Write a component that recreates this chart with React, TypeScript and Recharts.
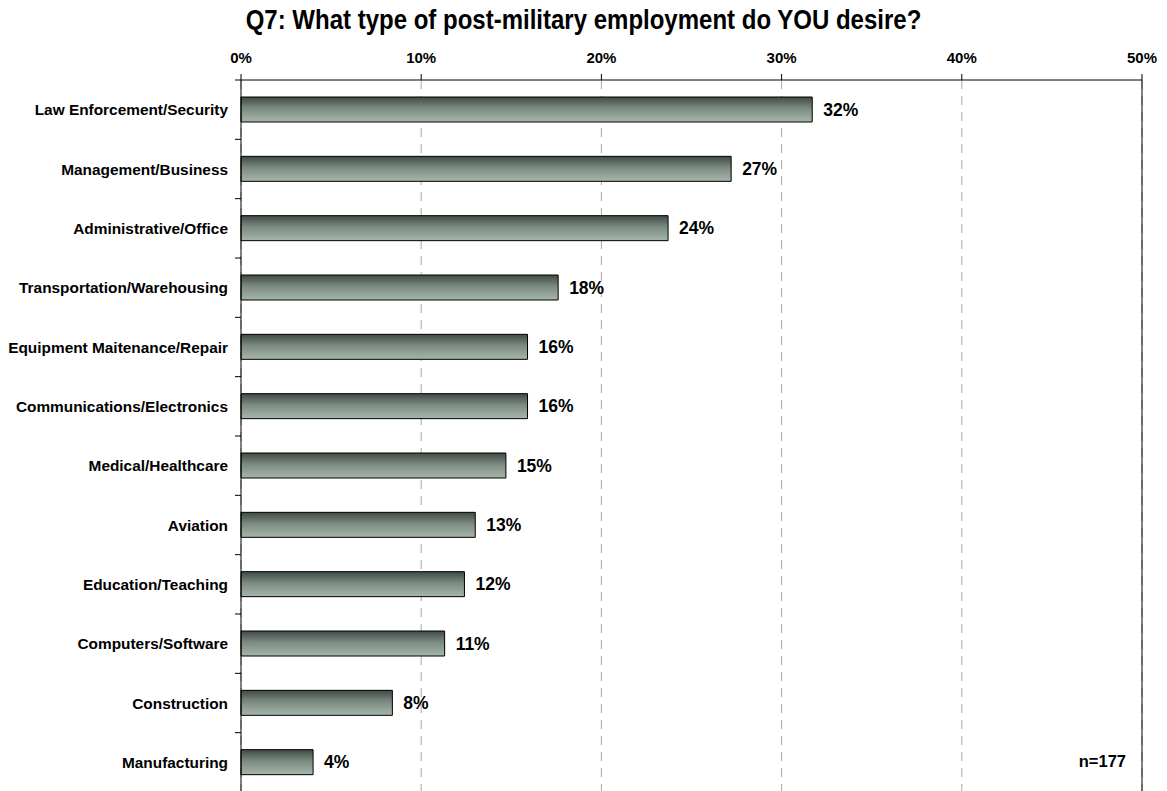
import { BarChart, Bar, XAxis, YAxis, CartesianGrid, ReferenceLine, LabelList } from 'recharts'

const categories = [
  'Law Enforcement/Security',
  'Management/Business',
  'Administrative/Office',
  'Transportation/Warehousing',
  'Equipment Maitenance/Repair',
  'Communications/Electronics',
  'Medical/Healthcare',
  'Aviation',
  'Education/Teaching',
  'Computers/Software',
  'Construction',
  'Manufacturing',
]

const shares = [31.7, 27.2, 23.7, 17.6, 15.9, 15.9, 14.7, 13.0, 12.4, 11.3, 8.4, 4.0]

const xTicks = [0, 10, 20, 30, 40, 50]

const data = categories.map((name, i) => ({ name, share: shares[i] }))

const W = 1167
const H = 800
const TOP = 80
const BOTTOM = 8
const BAND = (H - TOP - BOTTOM) / categories.length
const FONT = '"Liberation Sans", Arial, sans-serif'

function CategoryTick(props: any) {
  const { x, y, payload } = props
  return (
    <g>
      <line x1={x + 7} x2={x + 13} y1={y - BAND / 2} y2={y - BAND / 2} stroke="#000" />
      <text x={x} y={y} dy={5.5} textAnchor="end" fontSize={15.4} fontWeight="bold" fill="#000" fontFamily={FONT}>
        {payload.value}
      </text>
    </g>
  )
}

export default function App() {
  return (
    <div style={{ position: 'absolute', top: 0, left: 0, width: W, height: 791, overflow: 'hidden', background: '#fff', fontFamily: FONT }}>
      <div
        style={{
          position: 'absolute',
          top: 7,
          left: 0,
          width: W,
          textAlign: 'center',
          fontSize: 24,
          fontWeight: 'bold',
          color: '#000',
          transform: 'scaleY(1.15)',
          transformOrigin: '50% 22px',
        }}
      >
        Q7: What type of post-military employment do YOU desire?
      </div>
      <div
        style={{
          position: 'absolute',
          top: 752,
          right: 41,
          fontSize: 16.5,
          fontWeight: 'bold',
          color: '#000',
        }}
      >
        n=177
      </div>
      <BarChart
        width={W}
        height={H}
        data={data}
        layout="vertical"
        margin={{ top: 0, right: 25, bottom: BOTTOM, left: 0 }}
        barSize={25}
      >
        <defs>
          <linearGradient id="barFill" x1="0" y1="0" x2="0" y2="1">
            <stop offset="0%" stopColor="#3e4a43" />
            <stop offset="45%" stopColor="#7c8b81" />
            <stop offset="100%" stopColor="#a6b6aa" />
          </linearGradient>
        </defs>
        <CartesianGrid horizontal={false} stroke="#a8a8a8" strokeDasharray="9 7" />
        <XAxis
          type="number"
          orientation="top"
          domain={[0, 50]}
          ticks={xTicks}
          height={TOP}
          tickFormatter={(v: number) => `${v}%`}
          tick={{ fontSize: 15, fontWeight: 'bold', fill: '#000', fontFamily: FONT }}
          tickSize={6}
          tickMargin={11}
          axisLine={{ stroke: '#000' }}
          tickLine={{ stroke: '#000' }}
        />
        <YAxis
          type="category"
          dataKey="name"
          width={241}
          tick={<CategoryTick />}
          tickLine={false}
          tickSize={0}
          tickMargin={13}
          axisLine={{ stroke: '#000' }}
          interval={0}
        />
        <ReferenceLine x={50} stroke="#000" />
        <Bar dataKey="share" fill="url(#barFill)" stroke="#000" strokeWidth={1} isAnimationActive={false}>
          <LabelList
            dataKey="share"
            position="right"
            offset={11}
            formatter={(v: any) => `${Math.round(Number(v))}%`}
            style={{ fontSize: 17.5, fontWeight: 'bold', fill: '#000', fontFamily: FONT }}
          />
        </Bar>
      </BarChart>
    </div>
  )
}
